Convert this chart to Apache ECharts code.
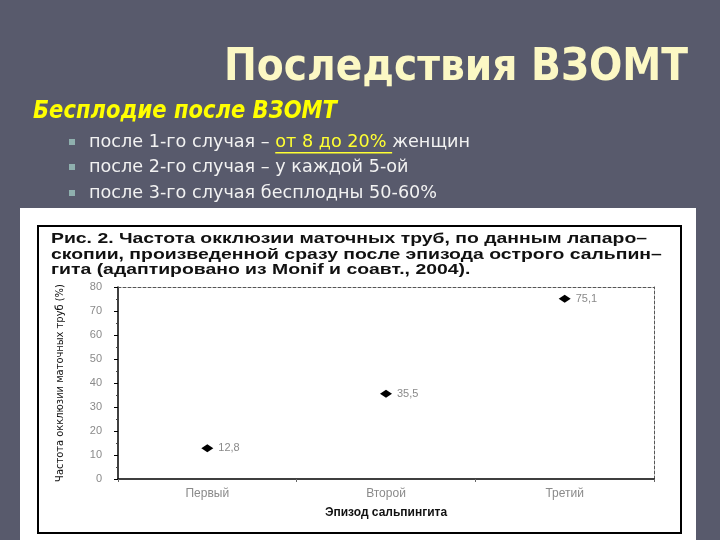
<!DOCTYPE html>
<html>
<head>
<meta charset="utf-8">
<script src="https://cdn.jsdelivr.net/npm/echarts@6/dist/echarts.min.js"></script>
<style>
html,body{margin:0;padding:0;background:#585a6c;}
#c{width:720px;height:540px;}
</style>
</head>
<body>
<div id="c"></div>
<script>
const slideTitle = 'Последствия ВЗОМТ';
const slideSubtitle = 'Бесплодие после ВЗОМТ';
const bullets = [
  ['после 1-го случая – ', 'от 8 до 20% ', 'женщин'],
  ['после 2-го случая – у каждой 5-ой', '', ''],
  ['после 3-го случая бесплодны 50-60%', '', '']
];
const captionLines = [
  'Рис. 2. Частота окклюзии маточных труб, по данным лапаро–',
  'скопии, произведенной сразу после эпизода острого сальпин–',
  'гита (адаптировано из Monif и соавт., 2004).'
];
const categories = ['Первый', 'Второй', 'Третий'];
const values = [12.8, 35.5, 75.1];
const yTicks = [0, 10, 20, 30, 40, 50, 60, 70, 80];
const yName = 'Частота окклюзии маточных труб (%)';
const xName = 'Эпизод сальпингита';

const mctx = document.createElement('canvas').getContext('2d');
function measure(text, font) { mctx.font = font; return mctx.measureText(text).width; }

const chart = echarts.init(document.getElementById('c'), null, {renderer: 'canvas'});

const titleFont = 'bold 44px "DejaVu Sans"';
const subFont = 'italic bold 25px "DejaVu Sans"';
const bulletFont = '18px "DejaVu Sans"';
const capFont = 'bold 15px "Liberation Sans"';

const graphics = [
  {type: 'rect', shape: {x: 20, y: 208, width: 676, height: 340}, style: {fill: '#ffffff'}, z: -10},
  {type: 'rect', shape: {x: 38, y: 226, width: 643, height: 307}, style: {fill: 'none', stroke: '#000', lineWidth: 2}, z: -9},
  {type: 'text', x: 224, y: 91, scaleX: 464 / measure(slideTitle, titleFont), style: {text: slideTitle, fill: '#fcf8c4', font: titleFont, textAlign: 'left', textVerticalAlign: 'bottom'}},
  {type: 'text', x: 33, y: 124, scaleX: 304 / measure(slideSubtitle, subFont), style: {text: slideSubtitle, fill: '#ffff00', font: subFont, textAlign: 'left', textVerticalAlign: 'bottom'}}
];
const bulletY = [142, 167, 193];
const bulletScale = 381 / measure(bullets[0].join(''), bulletFont);
bullets.forEach((b, i) => {
  graphics.push({type: 'rect', shape: {x: 69, y: bulletY[i] - 3, width: 6, height: 6}, style: {fill: '#8fb0ae'}});
  graphics.push({type: 'text', x: 89, y: bulletY[i], scaleX: bulletScale, style: {
    text: '{a|' + b[0] + '}' + (b[1] ? '{b|' + b[1] + '}' : '') + (b[2] ? '{a|' + b[2] + '}' : ''),
    textVerticalAlign: 'middle',
    rich: {
      a: {fill: '#f2f2f2', font: bulletFont},
      b: {fill: '#ffff33', font: bulletFont}
    }
  }});
});
// underline for highlighted part
const ulX = 89 + measure(bullets[0][0], bulletFont) * bulletScale;
const ulW = measure(bullets[0][1], bulletFont) * bulletScale;
graphics.push({type: 'rect', shape: {x: ulX, y: bulletY[0] + 10, width: ulW, height: 1.5}, style: {fill: '#ffff33'}});

const capY = [239, 255, 270];
const capScale = 596 / measure(captionLines[0], capFont);
captionLines.forEach((t, i) => {
  graphics.push({type: 'text', x: 51, y: capY[i], scaleX: capScale, style: {text: t, fill: '#111', font: capFont, textVerticalAlign: 'middle'}});
});

const option = {
  backgroundColor: '#585a6c',
  animation: false,
  graphic: graphics,
  grid: {left: 118, top: 287, right: 66, bottom: 61, containLabel: false},
  xAxis: [{
    type: 'category', data: categories, boundaryGap: true,
    axisLine: {onZero: false, lineStyle: {color: '#000', width: 1.5}},
    axisTick: {show: true, length: 3, lineStyle: {color: '#666'}},
    axisLabel: {color: '#8a8a8a', fontSize: 12, margin: 9, fontFamily: 'Liberation Sans'},
    name: xName, nameLocation: 'middle', nameGap: 28,
    nameTextStyle: {color: '#111', fontWeight: 'bold', fontSize: 12, fontFamily: 'Liberation Sans'}
  }, {
    type: 'category', data: categories, position: 'top',
    axisLine: {onZero: false, lineStyle: {color: '#555', type: [3, 2], width: 1}},
    axisTick: {show: false}, axisLabel: {show: false}
  }],
  yAxis: [{
    type: 'value', min: 0, max: 80, interval: 10,
    axisLine: {show: true, onZero: false, lineStyle: {color: '#000', width: 1.5}},
    axisTick: {show: true, length: 4, lineStyle: {color: '#000'}},
    minorTick: {show: true, splitNumber: 2, length: 2, lineStyle: {color: '#444'}},
    splitLine: {show: false},
    axisLabel: {color: '#8a8a8a', fontSize: 11, margin: 16, fontFamily: 'Liberation Sans',
      formatter: v => yTicks.indexOf(v) >= 0 ? String(v) : ''},
    name: yName, nameLocation: 'middle', nameGap: 52, nameRotate: 90,
    nameTextStyle: {color: '#111', fontSize: 11, fontFamily: '"Liberation Sans Narrow", "DejaVu Sans Condensed", "Liberation Sans"'}
  }, {
    type: 'value', min: 0, max: 80, interval: 10, position: 'right',
    axisLine: {show: true, onZero: false, lineStyle: {color: '#555', type: [3, 2], width: 1}},
    axisTick: {show: false}, axisLabel: {show: false}, splitLine: {show: false}
  }],
  series: [{
    type: 'line', data: values, xAxisIndex: 0, yAxisIndex: 0,
    lineStyle: {width: 0}, showSymbol: true,
    symbol: 'diamond', symbolSize: [12, 8],
    itemStyle: {color: '#000'},
    label: {show: true, position: 'right', distance: 5, color: '#8a8a8a', fontSize: 11, fontFamily: 'Liberation Sans',
      formatter: p => String(p.value).replace('.', ',')}
  }]
};
chart.setOption(option);
</script>
</body>
</html>
